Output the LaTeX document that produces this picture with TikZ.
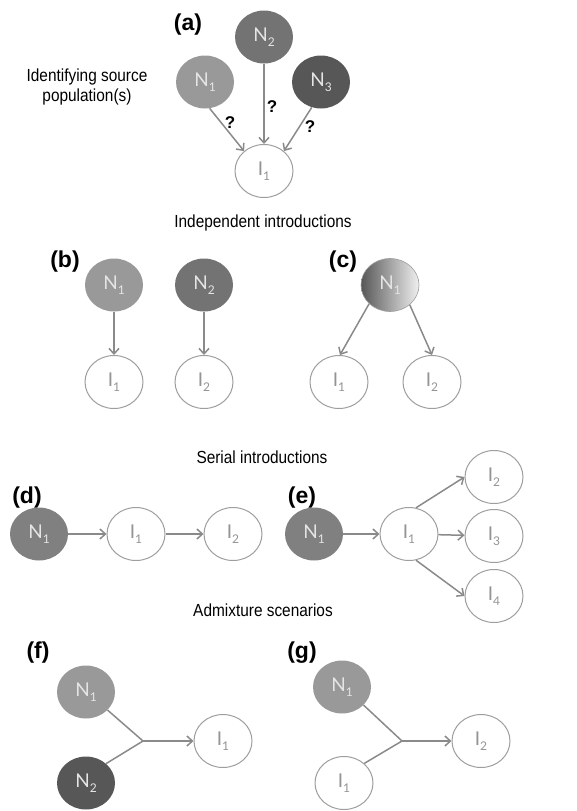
\documentclass[tikz,border=0pt]{standalone}
\usepackage{fontspec}
\setmainfont{Liberation Sans}
\newfontfamily\popfont{Lato}
\newfontfamily\headfont{Liberation Sans}[FakeStretch=0.88]
\usepackage{tikz}
\usetikzlibrary{shapes.geometric,arrows.meta}
\definecolor{lightpop}{gray}{0.60}
\definecolor{midpop}{gray}{0.45}
\definecolor{darkpop}{gray}{0.34}
\definecolor{serialpop}{gray}{0.50}
\definecolor{linegray}{gray}{0.54}
\definecolor{ringgray}{gray}{0.62}
\definecolor{paletext}{gray}{0.90}
\definecolor{introtext}{gray}{0.58}
\newcommand{\lab}[2]{#1\raisebox{-0.55ex}{\fontsize{12}{12}\selectfont #2}}
\tikzstyle{pop}=[ellipse,minimum width=58pt,minimum height=53pt,inner sep=0pt,
text=paletext,font=\popfont\fontsize{19}{19}\selectfont]
\tikzstyle{intro}=[pop,draw=ringgray,line width=1pt,fill=white,text=introtext]
\tikzstyle{panel}=[font=\bfseries\fontsize{23}{23}\selectfont]
\tikzstyle{heading}=[font=\headfont\fontsize{17.5}{20}\selectfont,align=center]
\tikzstyle{guess}=[font=\bfseries\fontsize{17}{17}\selectfont]
\tikzstyle{arrow}=[line width=1.5pt,draw=linegray,-{Straight Barb[length=5.5pt,width=10pt]}]
\tikzstyle{merge}=[line width=1.5pt,draw=linegray]
\begin{document}
\begin{tikzpicture}[x=1pt,y=-1pt]
    \useasboundingbox (0,0) rectangle (576,811);

    % (a) source populations
    \node (lba) [panel] at (188,25) {(a)};
    \node (txta) [heading] at (87,87) {Identifying source\\population(s)};
    \node (na1) [pop,fill=lightpop] at (205,82) {\lab{N}{1}};
    \node (na2) [pop,fill=midpop] at (264,37) {\lab{N}{2}};
    \node (na3) [pop,fill=darkpop] at (321,82) {\lab{N}{3}};
    \node (ia1) [intro] at (264,171) {\lab{I}{1}};
    \node (qa1) [guess] at (230,123) {?};
    \node (qa2) [guess] at (272,107) {?};
    \node (qa3) [guess] at (310,127) {?};

    \draw [arrow] (na1.-80) -- (ia1.135);
    \draw [arrow] (na2) -- (ia1);
    \draw [arrow] (na3.-110) -- (ia1.45);

    % (b) and (c) independent introductions
    \node (hdb) [heading] at (263,223) {Independent introductions};
    \node (lbb) [panel] at (65,262) {(b)};
    \node (nb1) [pop,fill=lightpop] at (114,285) {\lab{N}{1}};
    \node (nb2) [pop,fill=midpop] at (204,285) {\lab{N}{2}};
    \node (ib1) [intro] at (114,382) {\lab{I}{1}};
    \node (ib2) [intro] at (204,382) {\lab{I}{2}};
    \node (lbc) [panel] at (343,262) {(c)};
    \node (nc1) [pop,draw=ringgray,line width=0.6pt,left color=darkpop,right color=white!94!black] at (390,285) {\lab{N}{1}};
    \node (ic1) [intro] at (339,382) {\lab{I}{1}};
    \node (ic2) [intro] at (432,382) {\lab{I}{2}};

    \draw [arrow] (nb1) -- (ib1);
    \draw [arrow] (nb2) -- (ib2);
    \draw [arrow] (nc1.-138) -- (ic1.88);
    \draw [arrow] (nc1.-45) -- (ic2.90);

    % (d) and (e) serial introductions
    \node (hdd) [heading] at (262,457) {Serial introductions};
    \node (lbd) [panel] at (27,498) {(d)};
    \node (nd1) [pop,fill=serialpop] at (39,534) {\lab{N}{1}};
    \node (id1) [intro] at (136,534) {\lab{I}{1}};
    \node (id2) [intro] at (233,534) {\lab{I}{2}};
    \node (lbe) [panel] at (302,498) {(e)};
    \node (ne1) [pop,fill=serialpop] at (314,534) {\lab{N}{1}};
    \node (ie1) [intro] at (409,534) {\lab{I}{1}};
    \node (ie2) [intro] at (494,477) {\lab{I}{2}};
    \node (ie3) [intro] at (494,536) {\lab{I}{3}};
    \node (ie4) [intro] at (494,596) {\lab{I}{4}};

    \draw [arrow] (nd1) -- (id1);
    \draw [arrow] (id1) -- (id2);
    \draw [arrow] (ne1) -- (ie1);
    \draw [arrow] (ie1.75) -- (ie2.west);
    \draw [arrow] (ie1) -- (ie3);
    \draw [arrow] (ie1.-75) -- (ie4.west);

    % (f) and (g) admixture
    \node (hdf) [heading] at (263,610) {Admixture scenarios};
    \node (lbf) [panel] at (38,653) {(f)};
    \node (nf1) [pop,fill=lightpop] at (86,692) {\lab{N}{1}};
    \node (nf2) [pop,fill=darkpop] at (86,783) {\lab{N}{2}};
    \coordinate (jf) at (143,741);
    \node (if1) [intro] at (223,741) {\lab{I}{1}};
    \node (lbg) [panel] at (302,653) {(g)};
    \node (ng1) [pop,fill=lightpop] at (342,687) {\lab{N}{1}};
    \node (ig1) [intro] at (344,783) {\lab{I}{1}};
    \coordinate (jg) at (402,741);
    \node (ig2) [intro] at (481,741) {\lab{I}{2}};

    \draw [merge] (nf1.-40) -- (jf);
    \draw [merge] (nf2.44) -- (jf);
    \draw [arrow] (jf) -- (if1);
    \draw [merge] (ng1.-40) -- (jg);
    \draw [merge] (ig1.44) -- (jg);
    \draw [arrow] (jg) -- (ig2);

\end{tikzpicture}
\end{document}
